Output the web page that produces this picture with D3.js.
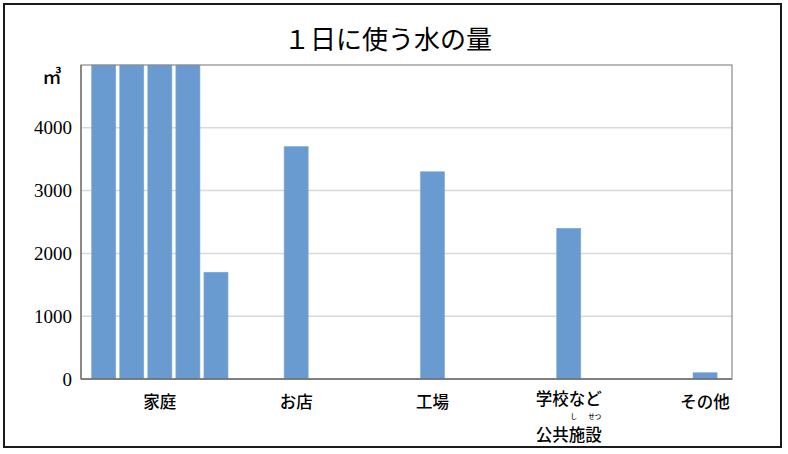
<!DOCTYPE html>
<html><head><meta charset="utf-8">
<script src="https://cdn.jsdelivr.net/npm/d3@7"></script>
<style>body{margin:0;background:#fff;}svg{display:block;}</style>
</head><body>
<script>
const categories = ["家庭", "お店", "工場", "学校など", "その他"];
// five column slots per category; 家庭 spans all five, the others use the middle slot
const slot1 = [5000, null, null, null, null];
const slot2 = [5000, null, null, null, null];
const slot3 = [5000, 3700, 3300, 2400, 100];
const slot4 = [5000, null, null, null, null];
const slot5 = [1700, null, null, null, null];
const yTicks = [0, 1000, 2000, 3000, 4000];
const yMax = 5000;
const title = "１日に使う水の量";
const unit = "㎥";

const W = 788, H = 454;
const L = 81, R = 732, T = 65, B = 379;
const svg = d3.select("body").append("svg").attr("width", W).attr("height", H);
svg.append("rect").attr("width", W).attr("height", H).attr("fill", "#fff");
svg.append("rect").attr("x", 4).attr("y", 4).attr("width", 777).attr("height", 443)
  .attr("fill", "none").attr("stroke", "#1a1a1a").attr("stroke-width", 2);

const y = d3.scaleLinear().domain([0, yMax]).range([B, T]);
const step = 136.3;
const x = d3.scaleBand().domain(categories).range([L + 10.7, L + 10.7 + step * categories.length]).padding(0);
const sub = d3.scaleBand().domain([0,1,2,3,4]).range([0, x.bandwidth()]).paddingInner(0.143).paddingOuter(0);

// gridlines
svg.append("g").selectAll("line").data(yTicks.filter(v => v > 0)).join("line")
  .attr("x1", L).attr("x2", R).attr("y1", d => y(d)).attr("y2", d => y(d))
  .attr("stroke", "#d9d9d9").attr("stroke-width", 1.5);

const series = [slot1, slot2, slot3, slot4, slot5];
const bars = [];
series.forEach((s, si) => s.forEach((v, ci) => { if (v != null) bars.push({cat: categories[ci], si, v}); }));
svg.append("g").selectAll("rect").data(bars).join("rect")
  .attr("x", d => x(d.cat) + sub(d.si)).attr("width", sub.bandwidth())
  .attr("y", d => y(d.v)).attr("height", d => B - y(d.v))
  .attr("fill", "#6a9bd0").attr("stroke", "#7aa8da").attr("stroke-width", 0.6);

// plot frame
svg.append("rect").attr("x", L).attr("y", T).attr("width", R - L).attr("height", B - T)
  .attr("fill", "none").attr("stroke", "#8a8a8a").attr("stroke-width", 1.2);
svg.append("line").attr("x1", L).attr("x2", L).attr("y1", T).attr("y2", B).attr("stroke", "#7a7a7a").attr("stroke-width", 1.5);
svg.append("line").attr("x1", L).attr("x2", R).attr("y1", B).attr("y2", B).attr("stroke", "#6e6e6e").attr("stroke-width", 1.5);

// y axis labels
const yAxis = d3.axisLeft(y).tickValues(yTicks).tickSize(0).tickPadding(9).tickFormat(d3.format("d"));
const ga = svg.append("g").attr("transform", `translate(${L},0)`).call(yAxis);
ga.select(".domain").remove();
ga.selectAll("text").attr("font-family", "Liberation Serif").attr("font-size", 19).attr("fill", "#000");

svg.append("text").attr("x", 52).attr("y", 79).attr("text-anchor", "middle").attr("dominant-baseline", "middle")
  .attr("font-family", "Noto Sans CJK JP").attr("font-weight", 500).attr("font-size", 19).text(unit);

// x labels
const lab = svg.append("g").attr("font-family", "Noto Sans CJK JP").attr("font-weight", 500).attr("font-size", 16.5).attr("fill", "#000");
categories.forEach(c => {
  lab.append("text").attr("x", x(c) + x.bandwidth() / 2).attr("y", c === "学校など" ? 401 : 404).attr("text-anchor", "middle")
    .attr("dominant-baseline", "middle").text(c);
});
const cx = x("学校など") + x.bandwidth() / 2;
lab.append("text").attr("x", cx).attr("y", 437).attr("text-anchor", "middle").attr("dominant-baseline", "middle").text("公共施設");
lab.append("text").attr("x", cx + 5).attr("y", 417.5).attr("text-anchor", "middle").attr("dominant-baseline", "middle").attr("font-size", 6.5).text("し");
lab.append("text").attr("x", cx + 26).attr("y", 417.5).attr("text-anchor", "middle").attr("dominant-baseline", "middle").attr("font-size", 6.5).text("せつ");

// title
svg.append("text").attr("x", 388).attr("y", 42).attr("text-anchor", "middle").attr("dominant-baseline", "middle")
  .attr("font-family", "Noto Sans CJK JP").attr("font-size", 26).attr("fill", "#000").text(title);
</script>
</body></html>
